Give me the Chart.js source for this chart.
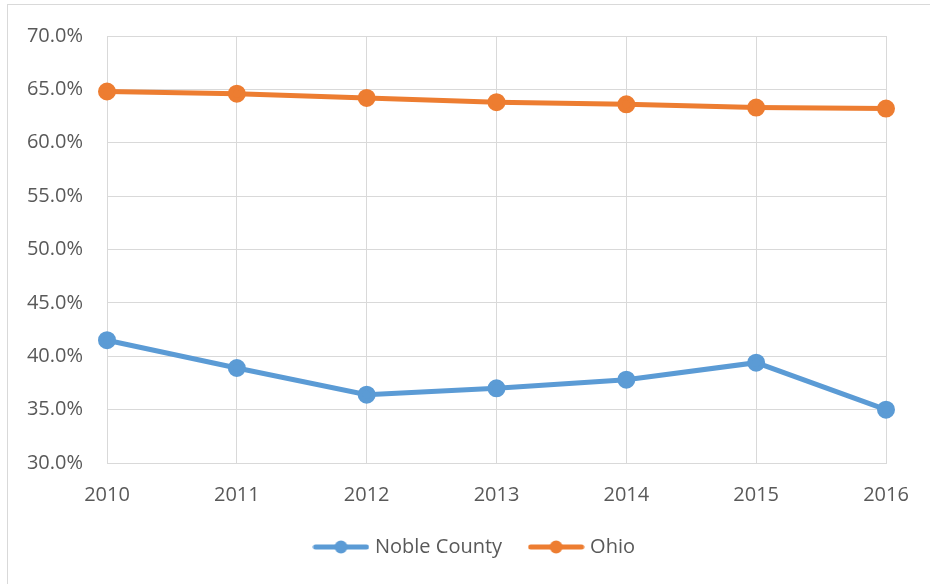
<!DOCTYPE html>
<html lang="en">
<head>
	<meta charset="UTF-8">
	<title>Noble County vs Ohio</title>
	<script src="https://cdn.jsdelivr.net/npm/chart.js@4.4.1/dist/chart.umd.min.js"></script>
	<style>
		html, body { margin: 0; padding: 0; background: #fff; overflow: hidden; }
		#frame { position: absolute; left: 7px; top: 4px; width: 960px; height: 620px; border: 1px solid #d9d9d9; }
		#wrap { position: absolute; left: 0; top: 0; width: 930px; height: 584px; }
	</style>
</head>
<body>
	<div id="frame"></div>
	<div id="wrap"><canvas id="myChart"></canvas></div>

	<script>
	// values (percent)
	let years = ['2010', '2011', '2012', '2013', '2014', '2015', '2016']
	let nobleCounty = [41.5, 38.9, 36.4, 37.0, 37.8, 39.4, 35.0]
	let ohio = [64.8, 64.6, 64.2, 63.8, 63.6, 63.3, 63.2]

	let blue = '#5b9bd5'
	let orange = '#ed7d31'
	let textColor = '#595959'
	let gridColor = '#d9d9d9'
	let fontFamily = '"Open Sans", "Noto Sans", sans-serif'

	// legend marker: short line with a dot in the middle
	function legendMarker(color) {
		let c = document.createElement('canvas')
		c.width = 57
		c.height = 14
		let g = c.getContext('2d')
		g.strokeStyle = color
		g.lineWidth = 5
		g.lineCap = 'round'
		g.beginPath()
		g.moveTo(3, 7)
		g.lineTo(54, 7)
		g.stroke()
		g.fillStyle = color
		g.beginPath()
		g.arc(28.5, 7, 6.5, 0, Math.PI * 2)
		g.fill()
		return c
	}
	let markers = [legendMarker(blue), legendMarker(orange)]

	Chart.defaults.font.family = fontFamily
	Chart.defaults.font.size = 20
	Chart.defaults.color = textColor

	// legend is centred on the whole chart frame, not on the canvas box
	let shiftLegend = {
		id: 'shiftLegend',
		afterLayout(chart) {
			chart.legend.left += 33
			chart.legend.right += 33
		}
	}

	var ctx = document.getElementById('myChart').getContext('2d')
	var chart = new Chart(ctx, {
		type: 'line',
		data: {
			labels: years,
			datasets: [{
				label: 'Noble County',
				data: nobleCounty,
				borderColor: blue,
				backgroundColor: blue,
				pointRadius: 6.5,
				pointHoverRadius: 6.5,
				borderWidth: 5,
				tension: 0,
				clip: false
			}, {
				label: 'Ohio',
				data: ohio,
				borderColor: orange,
				backgroundColor: orange,
				pointRadius: 6.5,
				pointHoverRadius: 6.5,
				borderWidth: 5,
				tension: 0,
				clip: false
			}]
		},
		plugins: [shiftLegend],
		options: {
			responsive: true,
			maintainAspectRatio: false,
			animation: { duration: 0 },
			layout: {
				padding: { left: 0, right: 44, top: 33, bottom: 17 }
			},
			scales: {
				x: {
					offset: false,
					grid: { color: gridColor, lineWidth: 1, drawTicks: false },
					border: { color: gridColor, width: 1 },
					ticks: { padding: 20, maxRotation: 0, color: textColor },
					afterFit: (s) => { s.height = 44 }
				},
				y: {
					min: 30,
					max: 70,
					grid: { color: gridColor, lineWidth: 1, drawTicks: false },
					border: { color: gridColor, width: 1 },
					ticks: {
						stepSize: 5,
						padding: 24,
						color: textColor,
						callback: (v) => v.toFixed(1) + '%'
					},
					afterFit: (s) => { s.width = 107 }
				}
			},
			plugins: {
				tooltip: { enabled: false },
				legend: {
					position: 'bottom',
					labels: {
						usePointStyle: true,
						pointStyleWidth: 48,
						padding: 30,
						color: textColor,
						font: { size: 20, family: fontFamily },
						generateLabels: (c) => {
							let items = Chart.defaults.plugins.legend.labels.generateLabels(c)
							items.forEach((it, i) => { it.pointStyle = markers[i] })
							return items
						}
					}
				}
			}
		}
	})
	</script>
</body>
</html>
